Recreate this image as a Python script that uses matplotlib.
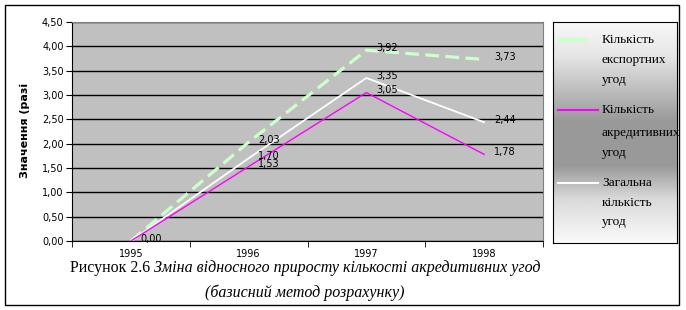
import numpy as np
import matplotlib.pyplot as plt
from matplotlib.patches import Rectangle
from matplotlib.ticker import FuncFormatter

years = ['1995', '1996', '1997', '1998']
export_deals = [0.00, 2.03, 3.92, 3.73]
import_deals = [0.00, 1.53, 3.05, 1.78]
total_deals = [0.00, 1.70, 3.35, 2.44]
y_ticks = [0, 0.5, 1, 1.5, 2, 2.5, 3, 3.5, 4, 4.5]
legend_rows = [
    ['Кількість', 'експортних', 'угод'],
    ['Кількість', 'акредитивних', 'угод'],
    ['Загальна', 'кількість', 'угод'],
]

W, H = 686, 310
fig = plt.figure(figsize=(W / 100, H / 100), dpi=100)

def box(x0, y0, x1, y1):
    # pixel box (top-left origin) -> figure fraction
    return [x0 / W, (H - y1) / H, (x1 - x0) / W, (y1 - y0) / H]

# outer frame
fig.patches.append(Rectangle((5 / W, (H - 305) / H), 674 / W, 300 / H,
                             transform=fig.transFigure, fill=False,
                             edgecolor='black', lw=1))

ax = fig.add_axes(box(72, 22, 543, 241))
ax.set_facecolor('#c0c0c0')
x = np.arange(len(years))

ax.plot(x, export_deals, color='#ccffcc', lw=2.3, dashes=(4.3, 2), zorder=3)
ax.plot(x, import_deals, color='#ff00ff', lw=1, zorder=4)
ax.plot(x, total_deals, color='white', lw=1.3, zorder=3)

fmt = lambda v: ('%.2f' % v).replace('.', ',')
labels = [(0, 0.00), (1, 2.03), (1, 1.70), (1, 1.53), (2, 3.92), (2, 3.35),
          (2, 3.05), (3, 3.73), (3, 2.44), (3, 1.78)]
for xi, v in labels:
    ax.annotate(fmt(v), (xi, v), xytext=(7, 1.5), textcoords='offset points',
                ha='left', va='center', fontsize=7, zorder=5)

ax.set_xlim(-0.5, 3.5)
ax.set_ylim(0, 4.5)
ax.set_yticks(y_ticks)
ax.yaxis.set_major_formatter(FuncFormatter(lambda v, p: fmt(v)))
ax.yaxis.grid(True, color='black', lw=1)
ax.set_axisbelow(True)
ax.set_xticks(x)
ax.set_xticklabels(years)
ax.set_xticks(np.arange(-0.5, 4, 1), minor=True)
ax.tick_params(axis='x', which='major', length=0, pad=6, labelsize=7)
ax.tick_params(axis='x', which='minor', length=4, direction='out')
ax.tick_params(axis='y', length=4, direction='out', labelsize=7, pad=2)
for s in ['top', 'right']:
    ax.spines[s].set_color('#808080')
ax.spines['left'].set_color('black')
ax.spines['bottom'].set_color('black')

fig.text(25 / W, (H - 130) / H, 'Значення (разі', rotation=90, fontsize=8,
         fontweight='bold', ha='center', va='center')

# legend with gradient background
lax = fig.add_axes(box(553, 22, 677, 243))
grad = np.interp(np.linspace(0, 1, 200), [0, 0.15, 0.3, 0.45, 0.65, 0.8, 1.0],
                 [0.97, 0.9, 0.75, 0.6, 0.6, 0.85, 0.98])
lax.imshow(grad[:, None], aspect='auto', cmap='gray', vmin=0, vmax=1,
           extent=[0, 124, 221, 0])
lax.set_xlim(0, 124)
lax.set_ylim(221, 0)
lax.set_xticks([])
lax.set_yticks([])
for s in lax.spines.values():
    s.set_color('black')
row_y = [[18, 38, 58], [88, 111, 131], [161, 181, 200]]
styles = [dict(color='#ccffcc', lw=3, dashes=(7, 2.5)),
          dict(color='#ff00ff', lw=1.5), dict(color='white', lw=1.5)]
for words, ys, st in zip(legend_rows, row_y, styles):
    lax.plot([5, 45], [ys[0], ys[0]], **st)
    for w, yy in zip(words, ys):
        lax.text(49, yy, w, fontsize=9.5, family='Liberation Serif',
                 ha='left', va='center')

# caption
fig.canvas.draw()
r = fig.canvas.get_renderer()
t1 = fig.text(0, (H - 268) / H, 'Рисунок 2.6 ', fontsize=11.5,
              family='Liberation Serif', va='center')
t2 = fig.text(0, (H - 268) / H,
              'Зміна відносного приросту кількості акредитивних угод',
              fontsize=11.5, family='Liberation Serif', style='italic',
              va='center')
w1 = t1.get_window_extent(r).width
w2 = t2.get_window_extent(r).width
x0 = 305 - (w1 + w2) / 2
t1.set_x(x0 / W)
t2.set_x((x0 + w1) / W)
fig.text(305 / W, (H - 293) / H, '(базисний метод розрахунку)', fontsize=11.5,
         family='Liberation Serif', style='italic', ha='center', va='center')

fig.savefig('out.png', dpi=100)
